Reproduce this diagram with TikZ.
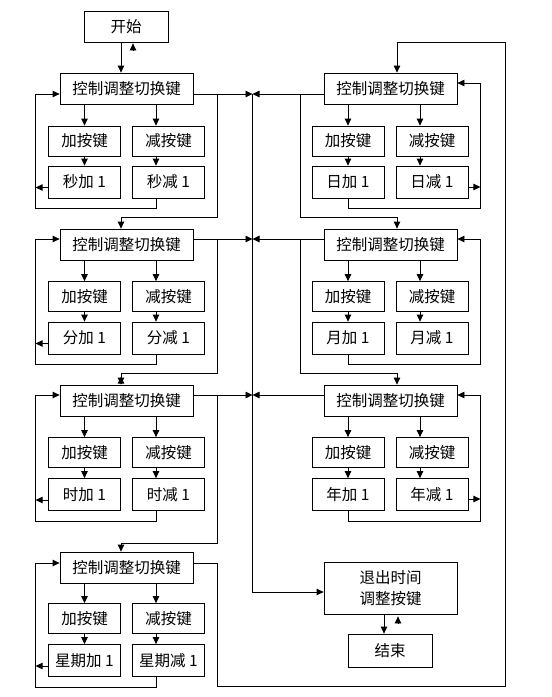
\documentclass[tikz,border=0pt]{standalone}
\usepackage{fontspec}
\setmainfont{Noto Sans CJK SC}
\usetikzlibrary{arrows.meta}

\begin{document}
\begin{tikzpicture}[x=1pt,y=-1pt,line width=0.8pt,
  box/.style={draw,inner sep=0pt,align=center,font=\fontsize{15.5pt}{21pt}\selectfont},
  ctrl/.style={box,minimum width=133pt,minimum height=31pt},
  key/.style={box,minimum width=72pt,minimum height=30pt},
  res/.style={box,minimum width=72pt,minimum height=32pt},
  arr/.style={-{Triangle[length=7pt,width=6.5pt]}}]
  \useasboundingbox (0,0) rectangle (552,697);
  \node[box,minimum width=84pt,minimum height=31pt] (start) at (126,26.5) {开始};
  % left column
  \node[ctrl] (c1) at (126.5,88.5) {控制调整切换键};
    \node[key] (a1) at (84.5,141) {加按键};
    \node[key] (s1) at (168.5,141) {减按键};
    \node[res] (p1) at (84.5,182) {秒加 1};
    \node[res] (m1) at (168.5,182) {秒减 1};
  \node[ctrl] (c2) at (126.5,244.5) {控制调整切换键};
    \node[key] (a2) at (84.5,296.5) {加按键};
    \node[key] (s2) at (168.5,296.5) {减按键};
    \node[res] (p2) at (84.5,338) {分加 1};
    \node[res] (m2) at (168.5,338) {分减 1};
  \node[ctrl] (c3) at (126.5,400.5) {控制调整切换键};
    \node[key] (a3) at (84.5,452.5) {加按键};
    \node[key] (s3) at (168.5,452.5) {减按键};
    \node[res] (p3) at (84.5,494.5) {时加 1};
    \node[res] (m3) at (168.5,494.5) {时减 1};
  \node[ctrl] (c4) at (126.5,567.5) {控制调整切换键};
    \node[key] (a4) at (84.5,618.5) {加按键};
    \node[key] (s4) at (168.5,618.5) {减按键};
    \node[res] (p4) at (84.5,660.5) {星期加 1};
    \node[res] (m4) at (168.5,660.5) {星期减 1};
  % right column
  \node[ctrl] (c5) at (390.5,88.5) {控制调整切换键};
    \node[key] (a5) at (348,141) {加按键};
    \node[key] (s5) at (432,141) {减按键};
    \node[res] (p5) at (348,182) {日加 1};
    \node[res] (m5) at (432,182) {日减 1};
  \node[ctrl] (c6) at (390.5,244.5) {控制调整切换键};
    \node[key] (a6) at (348,296.5) {加按键};
    \node[key] (s6) at (432,296.5) {减按键};
    \node[res] (p6) at (348,338) {月加 1};
    \node[res] (m6) at (432,338) {月减 1};
  \node[ctrl] (c7) at (390.5,400.5) {控制调整切换键};
    \node[key] (a7) at (348,452.5) {加按键};
    \node[key] (s7) at (432,452.5) {减按键};
    \node[res] (p7) at (348,494.5) {年加 1};
    \node[res] (m7) at (432,494.5) {年减 1};
  \node[box,minimum width=133pt,minimum height=52pt] (exit) at (390.5,588) {退出时间\\调整按键};
  \node[box,minimum width=84pt,minimum height=33pt] (end) at (390,650.5) {结束};
  \coordinate (bus) at (252.5,94);
  \coordinate (br) at (505,686);

  \draw[arr] ([xshift=-5pt]start.south) -- ([xshift=-5pt]start.south |- c1.north);
  \draw[arr] ([xshift=7pt,yshift=-8pt]start.south) -- ([xshift=7pt,yshift=-1pt]start.south);
  % left rows
  \draw[arr] (a1.north |- c1.south) -- (a1);
  \draw[arr] ([xshift=-12.5pt]s1.north |- c1.south) -- ([xshift=-12.5pt]s1.north);
  \draw[arr] (a1) -- (p1);
  \draw[arr] ([xshift=-12.5pt]s1.south) -- ([xshift=-12.5pt]m1.north);
  \draw[arr] ([xshift=-12.5pt]m1.south) -- ++(0,10) -| ([xshift=-24pt,yshift=-5.5pt]c1.west) -- ([yshift=-5.5pt]c1.west);
  \draw[arr] ([yshift=-5.5pt]p1.west) -- ++(-12.5,0);
  \draw[arr] ([yshift=-5.5pt]c1.east) -- ([yshift=-5.5pt]c1.east -| bus);
  \draw[arr] ([xshift=24pt,yshift=-5.5pt]c1.east) |- ([xshift=-5.5pt,yshift=11pt]c2.north) -- ([xshift=-5.5pt]c2.north);

  \draw[arr] (a2.north |- c2.south) -- (a2);
  \draw[arr] ([xshift=-12.5pt]s2.north |- c2.south) -- ([xshift=-12.5pt]s2.north);
  \draw[arr] (a2) -- (p2);
  \draw[arr] ([xshift=-12.5pt]s2.south) -- ([xshift=-12.5pt]m2.north);
  \draw[arr] ([xshift=-12.5pt]m2.south) -- ++(0,10) -| ([xshift=-24pt,yshift=5.5pt]c2.west) -- ([yshift=5.5pt]c2.west);
  \draw[arr] ([yshift=-5.5pt]p2.west) -- ++(-12.5,0);
  \draw[arr] ([yshift=5.5pt]c2.east) -- ([yshift=5.5pt]c2.east -| bus);
  \draw[arr] ([xshift=24pt,yshift=5.5pt]c2.east) |- ([xshift=-5.5pt,yshift=11pt]c3.north) -- ([xshift=-5.5pt]c3.north);
  \draw[arr] ([xshift=-5.5pt,yshift=1pt]c3.north) -- ([xshift=-5.5pt,yshift=8pt]c3.north);

  \draw[arr] (a3.north |- c3.south) -- (a3);
  \draw[arr] ([xshift=-12.5pt]s3.north |- c3.south) -- ([xshift=-12.5pt]s3.north);
  \draw[arr] (a3) -- (p3);
  \draw[arr] ([xshift=-12.5pt]s3.south) -- ([xshift=-12.5pt]m3.north);
  \draw[arr] ([xshift=-12.5pt]m3.south) -- ++(0,10) -| ([xshift=-24pt,yshift=5.5pt]c3.west) -- ([yshift=5.5pt]c3.west);
  \draw[arr] ([yshift=-5.5pt]p3.west) -- ++(-12.5,0);
  \draw[arr] ([yshift=5.5pt]c3.east) -- ([yshift=5.5pt]c3.east -| bus);
  \draw[arr] ([xshift=24pt,yshift=5.5pt]c3.east) |- ([xshift=-5.5pt,yshift=8pt]c4.north) -- ([xshift=-5.5pt]c4.north);

  \draw[arr] (a4.north |- c4.south) -- (a4);
  \draw[arr] ([xshift=-12.5pt]s4.north |- c4.south) -- ([xshift=-12.5pt]s4.north);
  \draw[arr] (a4) -- (p4);
  \draw[arr] ([xshift=-12.5pt]s4.south) -- ([xshift=-12.5pt]m4.north);
  \draw[arr] ([xshift=-12.5pt]m4.south) -- ++(0,10) -| ([xshift=-24pt,yshift=4.5pt]c4.west) -- ([yshift=4.5pt]c4.west);
  \draw[arr] ([yshift=-5.5pt]p4.west) -- ++(-12.5,0);
  \draw[arr] ([yshift=4.5pt]c4.east) -- ++(24,0) |- (br) |- ([xshift=6.5pt,yshift=30pt]c5.north) -- ([xshift=6.5pt]c5.north);
  % right rows
  \draw[arr] (a5.north |- c5.south) -- (a5);
  \draw[arr] ([xshift=-12pt]s5.north |- c5.south) -- ([xshift=-12pt]s5.north);
  \draw[arr] (a5) -- (p5);
  \draw[arr] ([xshift=-12pt]s5.south) -- ([xshift=-12pt]m5.north);
  \draw[arr] (p5.south) -- ++(0,10) -| ([xshift=23pt,yshift=5.5pt]c5.east) -- ([yshift=5.5pt]c5.east);
  \draw[arr] ([yshift=-5pt]m5.east) -- ++(12,0);
  \draw[arr] ([yshift=-5.5pt]c5.west) -- ([yshift=-5.5pt]c5.west -| bus);
  \draw[arr] ([xshift=-23pt,yshift=-5.5pt]c5.west) |- ([xshift=6.5pt,yshift=11pt]c6.north) -- ([xshift=6.5pt]c6.north);

  \draw[arr] (a6.north |- c6.south) -- (a6);
  \draw[arr] ([xshift=-12pt]s6.north |- c6.south) -- ([xshift=-12pt]s6.north);
  \draw[arr] (a6) -- (p6);
  \draw[arr] ([xshift=-12pt]s6.south) -- ([xshift=-12pt]m6.north);
  \draw[arr] (p6.south) -- ++(0,10) -| ([xshift=23pt,yshift=5.5pt]c6.east) -- ([yshift=5.5pt]c6.east);
  \draw[arr] ([yshift=5.5pt]c6.west) -- ([yshift=5.5pt]c6.west -| bus);
  \draw[arr] ([xshift=-23pt,yshift=5.5pt]c6.west) |- ([xshift=6.5pt,yshift=11pt]c7.north) -- ([xshift=6.5pt]c7.north);

  \draw[arr] (a7.north |- c7.south) -- (a7);
  \draw[arr] ([xshift=-12pt]s7.north |- c7.south) -- ([xshift=-12pt]s7.north);
  \draw[arr] (a7) -- (p7);
  \draw[arr] ([xshift=-12pt]s7.south) -- ([xshift=-12pt]m7.north);
  \draw[arr] (p7.south) -- ++(0,10) -| ([xshift=23pt,yshift=5.5pt]c7.east) -- ([yshift=5.5pt]c7.east);
  \draw[arr] ([yshift=-4.5pt]m7.east) -- ++(12,0);
  \draw[arr] ([yshift=5.5pt]c7.west) -- ([yshift=5.5pt]c7.west -| bus);
  % exit
  \draw[arr] (bus) |- ([yshift=-4pt]exit.west);
  \draw[arr] ([xshift=-6.5pt]exit.south) -- ([xshift=-6.5pt]exit.south |- end.north);
  \draw[arr] ([xshift=7.5pt,yshift=-9pt]exit.south) -- ([xshift=7.5pt,yshift=-2pt]exit.south);
\end{tikzpicture}
\end{document}
